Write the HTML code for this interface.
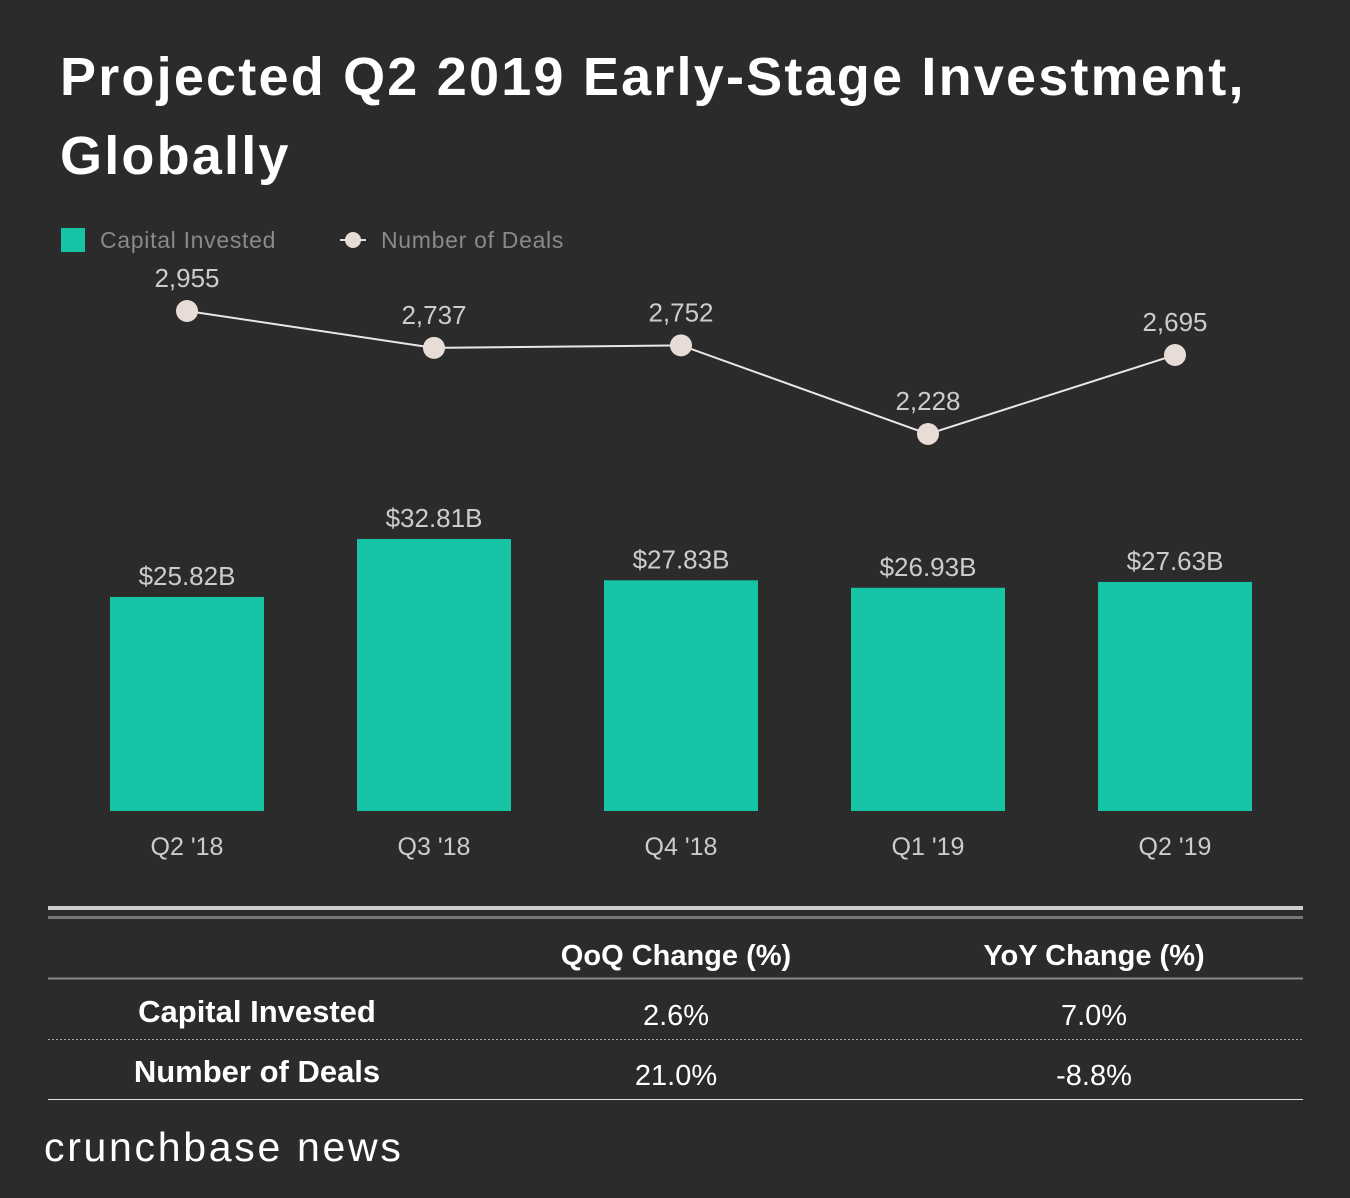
<!DOCTYPE html>
<html><head><meta charset="utf-8"><style>
body{margin:0;background:#2b2b2b;}
#c{position:relative;width:1350px;height:1198px;background:#2b2b2b;font-family:"Liberation Sans",sans-serif;color:#fff;overflow:hidden}
.t{position:absolute;white-space:nowrap}
</style></head><body>
<div id="c">
<div class="t" style="left:60px;top:38px;font-size:54px;font-weight:bold;line-height:79px;letter-spacing:2.2px">Projected Q2 2019 Early-Stage Investment,<br>Globally</div>
<svg id="s" width="1350" height="1198" style="position:absolute;left:0;top:0">
<g>
<rect x="61" y="228" width="24" height="24" fill="#17c3a5"/>
<text x="100" y="248" fill="#8a8a8a" font-size="23" letter-spacing="0.7" font-family="Liberation Sans">Capital Invested</text>
<line x1="340" y1="240" x2="366" y2="240" stroke="#e8ddd6" stroke-width="2"/>
<circle cx="353" cy="240" r="8" fill="#e8ddd6"/>
<text x="381" y="248" fill="#8a8a8a" font-size="23" letter-spacing="0.7" font-family="Liberation Sans">Number of Deals</text>
</g>
<g id="bars"></g><g id="line"></g>
<g>
<rect x="48" y="906" width="1255" height="4" fill="#cfcfcf"/>
<rect x="48" y="916" width="1255" height="3" fill="#777"/>
<line x1="48" y1="978.5" x2="1303" y2="978.5" stroke="#888" stroke-width="2"/>
<line x1="48" y1="1039.5" x2="1303" y2="1039.5" stroke="#aaa" stroke-width="1" stroke-dasharray="2,2"/>
<line x1="48" y1="1099.5" x2="1303" y2="1099.5" stroke="#ddd" stroke-width="1"/>
<g font-family="Liberation Sans" font-size="29" fill="#fff" text-anchor="middle">
<text x="676" y="965" font-weight="bold">QoQ Change (%)</text>
<text x="1094" y="965" font-weight="bold">YoY Change (%)</text>
<text x="257" y="1022" font-weight="bold" font-size="31">Capital Invested</text>
<text x="676" y="1025">2.6%</text>
<text x="1094" y="1025">7.0%</text>
<text x="257" y="1082" font-weight="bold" font-size="31">Number of Deals</text>
<text x="676" y="1085">21.0%</text>
<text x="1094" y="1085">-8.8%</text>
</g></g>
<text x="44" y="1161" fill="#fff" font-size="41" letter-spacing="2.7" font-family="Liberation Sans">crunchbase news</text>
</svg>
</div>
<script>
const categories=["Q2 '18","Q3 '18","Q4 '18","Q1 '19","Q2 '19"];
const capital=[25.82,32.81,27.83,26.93,27.63];
const capitalLabels=["$25.82B","$32.81B","$27.83B","$26.93B","$27.63B"];
const deals=[2955,2737,2752,2228,2695];
const dealLabels=["2,955","2,737","2,752","2,228","2,695"];
const NS="http://www.w3.org/2000/svg";
const base=811;
const xc=i=>187+i*247;
const yCap=v=>base-v*8.29;
const yDeal=v=>base-v*0.1692;
function mk(t,a,p){const e=document.createElementNS(NS,t);for(const k in a)e.setAttribute(k,a[k]);p.appendChild(e);return e;}
const bg=document.getElementById('bars'),lg=document.getElementById('line');
capital.forEach((v,i)=>{
 const r=mk('rect',{x:xc(i)-77,y:yCap(v),width:154,height:base-yCap(v),fill:'#17c3a5'},bg);
 
 
 const t=mk('text',{x:xc(i),y:yCap(v)-12,'text-anchor':'middle',fill:'#ccc','font-size':26,'font-family':'Liberation Sans'},bg);t.textContent=capitalLabels[i];
 
 
 const c=mk('text',{x:xc(i),y:855,'text-anchor':'middle',fill:'#ccc','font-size':25,'font-family':'Liberation Sans'},bg);c.textContent=categories[i];
 
 
});
const pl=mk('polyline',{points:deals.map((v,i)=>xc(i)+','+yDeal(v)).join(' '),fill:'none',stroke:'#e8e8e8','stroke-width':2},lg);


deals.forEach((v,i)=>{
 const c=mk('circle',{cx:xc(i),cy:yDeal(v),r:11,fill:'#e8ddd6'},lg);
 
 
 const t=mk('text',{x:xc(i),y:yDeal(v)-24,'text-anchor':'middle',fill:'#ccc','font-size':26,'font-family':'Liberation Sans'},lg);t.textContent=dealLabels[i];
 
 
});
</script>
</body></html>
